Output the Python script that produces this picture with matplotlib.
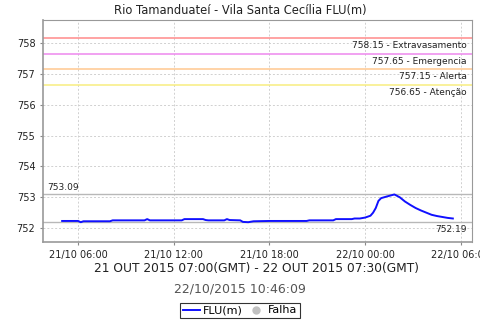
import matplotlib
matplotlib.use('Agg')
import matplotlib.pyplot as plt
import matplotlib.dates as mdates
from matplotlib.lines import Line2D
import pandas as pd

# leituras do posto (hora local)
times = [
    '2015-10-21 05:00', '2015-10-21 06:00', '2015-10-21 06:10', '2015-10-21 06:20',
    '2015-10-21 08:00', '2015-10-21 08:10', '2015-10-21 10:10', '2015-10-21 10:20',
    '2015-10-21 10:30', '2015-10-21 12:30', '2015-10-21 12:40', '2015-10-21 13:50',
    '2015-10-21 14:00', '2015-10-21 14:10', '2015-10-21 15:10', '2015-10-21 15:20',
    '2015-10-21 15:30', '2015-10-21 16:10', '2015-10-21 16:20', '2015-10-21 16:40',
    '2015-10-21 17:00', '2015-10-21 18:00', '2015-10-21 20:20', '2015-10-21 20:30',
    '2015-10-21 22:00', '2015-10-21 22:10', '2015-10-21 23:10', '2015-10-21 23:20',
    '2015-10-21 23:40', '2015-10-22 00:00', '2015-10-22 00:20', '2015-10-22 00:30',
    '2015-10-22 00:40', '2015-10-22 00:50', '2015-10-22 01:00', '2015-10-22 01:20',
    '2015-10-22 01:50', '2015-10-22 02:10', '2015-10-22 02:30', '2015-10-22 02:50',
    '2015-10-22 03:10', '2015-10-22 03:30', '2015-10-22 03:50', '2015-10-22 04:10',
    '2015-10-22 04:30', '2015-10-22 04:50', '2015-10-22 05:10', '2015-10-22 05:30',
]
flu = [
    752.23, 752.23, 752.19, 752.22,
    752.22, 752.25, 752.25, 752.29,
    752.25, 752.25, 752.29, 752.29,
    752.26, 752.25, 752.25, 752.29,
    752.26, 752.25, 752.20, 752.19,
    752.22, 752.23, 752.23, 752.25,
    752.25, 752.29, 752.29, 752.31,
    752.31, 752.34, 752.40, 752.50,
    752.65, 752.88, 752.97, 753.02,
    753.09, 753.00, 752.86, 752.75,
    752.65, 752.57, 752.50, 752.43,
    752.39, 752.36, 752.33, 752.31,
]

limites = [758.15, 757.65, 757.15, 756.65]
limite_nomes = ['Extravasamento', 'Emergencia', 'Alerta', 'Atenção']
limite_cores = ['#ff8a8a', '#ee88ee', '#ffc890', '#f8ee80']

ticks = ['2015-10-21 06:00', '2015-10-21 12:00', '2015-10-21 18:00',
         '2015-10-22 00:00', '2015-10-22 06:00']

t = pd.to_datetime(times)
vmax = max(flu)
vmin = min(flu)

fig = plt.figure(figsize=(4.8, 3.2), dpi=100)
ax = fig.add_axes([0.0896, 0.244, 0.8937, 0.6935])

ax.set_xlim(pd.Timestamp('2015-10-21 03:48'), pd.Timestamp('2015-10-22 06:42'))
ax.set_ylim(751.55, 758.75)

ax.grid(True, color='#d0d0d0', linestyle=(0, (2, 2)), linewidth=0.7)
ax.set_axisbelow(True)

for v, nome, cor in zip(limites, limite_nomes, limite_cores):
    ax.axhline(v, color=cor, linewidth=1.1)
    ax.annotate(f'{v:.2f} - {nome}', xy=(1, v), xycoords=('axes fraction', 'data'),
                xytext=(-4, -2), textcoords='offset points', ha='right', va='top',
                fontsize=6.5, color='#222222')

ax.axhline(vmax, color='#b8b8b8', linewidth=1)
ax.axhline(vmin, color='#b8b8b8', linewidth=1)
ax.annotate(f'{vmax:.2f}', xy=(0, vmax), xycoords=('axes fraction', 'data'),
            xytext=(3, 2), textcoords='offset points', ha='left', va='bottom',
            fontsize=6.5, color='#222222')
ax.annotate(f'{vmin:.2f}', xy=(1, vmin), xycoords=('axes fraction', 'data'),
            xytext=(-4, -2), textcoords='offset points', ha='right', va='top',
            fontsize=6.5, color='#222222')

ax.plot(t, flu, color='#1010ff', linewidth=1.4)

ax.set_xticks(pd.to_datetime(ticks))
ax.xaxis.set_major_formatter(mdates.DateFormatter('%d/%m %H:%M'))
ax.set_yticks([752, 753, 754, 755, 756, 757, 758])
ax.tick_params(labelsize=7, length=2, width=0.8, colors='#888888', labelcolor='#222222')
for s in ax.spines.values():
    s.set_color('#999999')
ax.spines['left'].set_linewidth(1.2)
ax.spines['bottom'].set_linewidth(1.2)

fig.text(0.5, 0.968, 'Rio Tamanduateí - Vila Santa Cecília FLU(m)', ha='center', va='center',
         fontsize=8.3, color='#222222')
fig.text(0.535, 0.162, '21 OUT 2015 07:00(GMT) - 22 OUT 2015 07:30(GMT)', ha='center', va='center',
         fontsize=8.8, color='#222222')
fig.text(0.5, 0.097, '22/10/2015 10:46:09', ha='center', va='center',
         fontsize=9, color='#555555')

handles = [Line2D([], [], color='#1010ff', linewidth=1.4),
           Line2D([], [], color='#c0c0c0', marker='o', linestyle='None', markersize=5)]
leg = fig.legend(handles, ['FLU(m)', 'Falha'], loc='center', bbox_to_anchor=(0.5, 0.03),
                 ncol=2, fontsize=8, frameon=True, fancybox=False, handlelength=1.5,
                 handletextpad=0.3, columnspacing=0.4, borderpad=0.25, borderaxespad=0)
leg.get_frame().set_edgecolor('black')
leg.get_frame().set_linewidth(0.8)

fig.savefig('out.png', dpi=100)
